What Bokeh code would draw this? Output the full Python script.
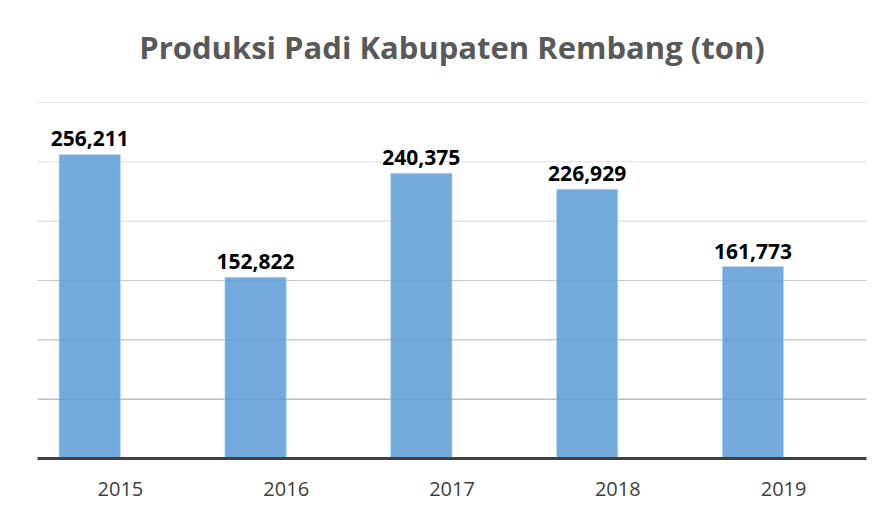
from bokeh.plotting import figure
from bokeh.models import ColumnDataSource, Span, Label
from bokeh.transform import dodge
from bokeh.core.properties import value
from bokeh.embed import file_html
from bokeh.resources import INLINE

years = ["2015", "2016", "2017", "2018", "2019"]
production = [256211, 152822, 240375, 226929, 161773]
labels = ["256,211", "152,822", "240,375", "226,929", "161,773"]
grid_values = [50000, 100000, 150000, 200000, 250000, 300000]
grid_colors = ["#9c9c9c", "#b2b2b2", "#c8c8c8", "#d6d6d6", "#dedede", "#e4e4e4"]
title_text = "Produksi Padi Kabupaten Rembang (ton)"

src = ColumnDataSource(dict(year=years, value=production, label=labels))

# frame spans the full height above the axis; 300k gridline sits 356px above baseline
y_top = 300000 * 458 / 356

p = figure(x_range=years, y_range=(0, y_top), width=878, height=502,
           output_backend="svg", toolbar_location=None,
           min_border_left=37, min_border_right=12, min_border_top=0,
           min_border_bottom=44)
p.x_range.range_padding = 0
p.outline_line_color = None
p.background_fill_color = "white"
p.xgrid.visible = False
p.ygrid.visible = False
p.yaxis.visible = False

for v, c in zip(grid_values, grid_colors):
    p.add_layout(Span(location=v, dimension="width", line_color=c,
                      line_width=1, level="underlay"))

bar_x = dodge("year", -0.185, range=p.x_range)
p.vbar(x=bar_x, top="value", width=0.37, source=src,
       fill_color="#5B9BD5", fill_alpha=0.85,
       line_color="#BDD7EE", line_alpha=0.7, line_width=1)

p.text(x=bar_x, y="value", text="label", source=src,
       text_align="center", text_baseline="bottom", y_offset=-8,
       text_font=value("Open Sans"), text_font_style="bold",
       text_font_size="21px", text_color="#000000")

ax = p.xaxis[0]
ax.axis_line_color = "#404040"
ax.axis_line_width = 3
ax.major_tick_line_color = None
ax.minor_tick_line_color = None
ax.major_label_text_font = "Open Sans"
ax.major_label_text_font_size = "20px"
ax.major_label_text_color = "#404040"
ax.major_label_standoff = 17

p.add_layout(Label(x=414.5, y=412, x_units="screen", y_units="screen",
                   text=title_text, text_align="center",
                   text_baseline="alphabetic",
                   text_font="Open Sans", text_font_style="bold",
                   text_font_size="31px", text_color="#595959"))

open("out.html", "w").write(file_html(p, INLINE))
